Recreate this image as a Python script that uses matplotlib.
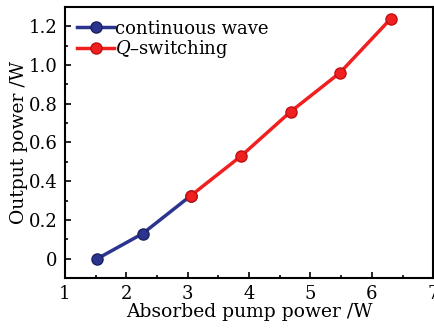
import matplotlib
matplotlib.use("Agg")
import matplotlib.pyplot as plt
from matplotlib.ticker import MultipleLocator

plt.rcParams['font.family'] = 'DejaVu Serif'
plt.rcParams['mathtext.fontset'] = 'dejavuserif'

# continuous wave
cw_pump = [1.53, 2.27, 3.05]
cw_power = [0.0, 0.13, 0.325]
# Q-switching
qs_pump = [3.05, 3.87, 4.68, 5.48, 6.31]
qs_power = [0.325, 0.53, 0.76, 0.96, 1.24]

fig = plt.figure(figsize=(4.35, 3.31), dpi=100)
ax = fig.add_axes([0.149, 0.16, 0.847, 0.819])

ax.plot(cw_pump, cw_power, '-o', color='#2b3590', lw=2.5, ms=8,
        mfc='#2b3590', mec='#1a2060', label='continuous wave')
ax.plot(qs_pump, qs_power, '-o', color='#f02020', lw=2.5, ms=8,
        mfc='#f02020', mec='#c01010', label='$Q$–switching')

ax.set_xlim(1, 7)
ax.set_ylim(-0.1, 1.3)
ax.xaxis.set_major_locator(MultipleLocator(1))
ax.xaxis.set_minor_locator(MultipleLocator(0.5))
ax.yaxis.set_minor_locator(MultipleLocator(0.1))
ax.set_yticks([0, 0.2, 0.4, 0.6, 0.8, 1.0, 1.2])
ax.set_yticklabels(['0', '0.2', '0.4', '0.6', '0.8', '1.0', '1.2'])
ax.tick_params(which='both', direction='in', top=False, right=False, labelsize=13)
ax.tick_params(which='major', length=4.5, width=1.2, pad=5)
ax.tick_params(which='minor', length=2.5, width=1.2)
for s in ax.spines.values():
    s.set_linewidth(1.5)

ax.set_xlabel('Absorbed pump power /W', fontsize=13.5, labelpad=0)
ax.set_ylabel('Output power /W', fontsize=13.5, labelpad=1)

ax.legend(loc='upper left', frameon=False, fontsize=13, handlelength=2.0,
          handletextpad=0.1, borderaxespad=0.3, labelspacing=0.05)

fig.savefig('out.png', dpi=100)
